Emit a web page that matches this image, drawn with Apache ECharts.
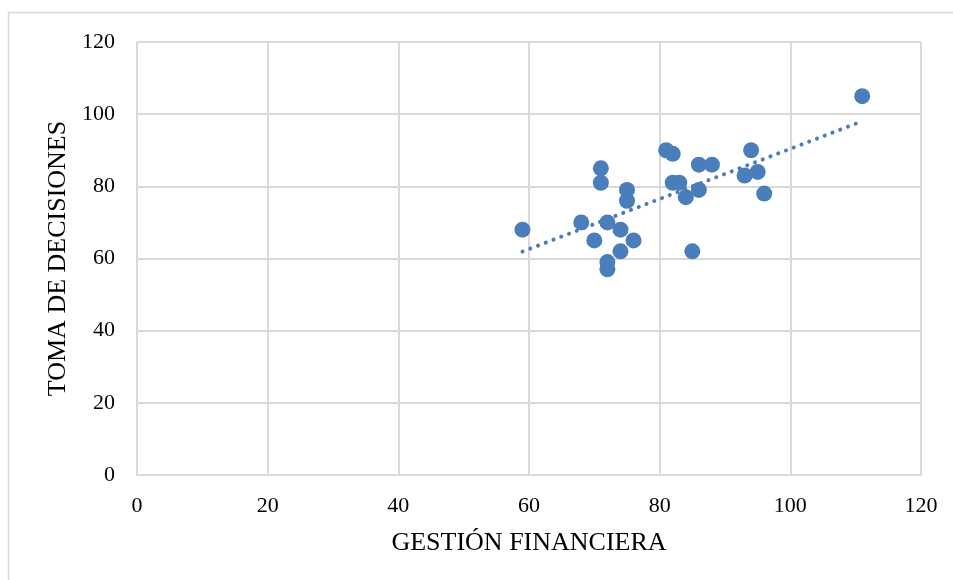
<!DOCTYPE html>
<html><head><meta charset="utf-8">
<script src="https://cdn.jsdelivr.net/npm/echarts@6/dist/echarts.min.js"></script>
<style>html,body{margin:0;padding:0;background:#fff}#c{width:953px;height:580px}</style>
</head><body><div id="c"></div>
<script>
const xTitle = 'GESTIÓN FINANCIERA';
const yTitle = 'TOMA DE DECISIONES';
const gestion = [59,68,70,71,71,72,72,72,74,74,75,75,76,81,82,82,83,84,85,86,86,88,93,94,95,96,111];
const decisiones = [68,70,65,85,81,70,59,57,68,62,79,76,65,90,89,81,81,77,62,86,79,86,83,90,84,78,105];

const pts = gestion.map((x,i)=>[x,decisiones[i]]);
const n = pts.length;
const mx = gestion.reduce((a,b)=>a+b,0)/n, my = decisiones.reduce((a,b)=>a+b,0)/n;
let sxy=0,sxx=0; for(let i=0;i<n;i++){sxy+=(gestion[i]-mx)*(decisiones[i]-my);sxx+=(gestion[i]-mx)**2;}
const b = sxy/sxx, a = my-b*mx;
const xmin = Math.min(...gestion), xmax = Math.max(...gestion);
const trend = [[xmin,a+b*xmin],[xmax,a+b*xmax]];

const chart = echarts.init(document.getElementById('c'));
const font = '"Liberation Serif","Times New Roman",serif';
chart.setOption({
  animation:false,
  graphic:[{type:'rect',shape:{x:8.5,y:12.5,width:960,height:600},style:{fill:null,stroke:'#d9d9d9',lineWidth:1.5}}],
  grid:{left:137,right:32,top:42,bottom:105},
  xAxis:{type:'value',min:0,max:120,interval:20,name:xTitle,nameLocation:'middle',nameGap:55,
    nameTextStyle:{fontFamily:font,fontSize:26,color:'#000'},
    axisLine:{show:true,lineStyle:{color:'#d9d9d9',width:2}},axisTick:{show:false},
    axisLabel:{fontFamily:font,fontSize:22,color:'#000',margin:20},
    splitLine:{show:true,lineStyle:{color:'#d9d9d9',width:2}}},
  yAxis:{type:'value',min:0,max:120,interval:20,name:yTitle,nameLocation:'middle',nameGap:62,
    nameTextStyle:{fontFamily:font,fontSize:26,color:'#000'},
    axisLine:{show:false},axisTick:{show:false},
    axisLabel:{fontFamily:font,fontSize:22,color:'#000',margin:22},
    splitLine:{show:true,lineStyle:{color:'#d9d9d9',width:2}}},
  series:[
    {type:'line',data:trend,symbol:'none',lineStyle:{color:'#4a7ebb',width:4,type:[0.1,8.2],cap:'round'},z:1},
    {type:'scatter',data:pts,symbolSize:16,itemStyle:{color:'#4a7ebb',opacity:1},z:2}
  ]
});
</script></body></html>
